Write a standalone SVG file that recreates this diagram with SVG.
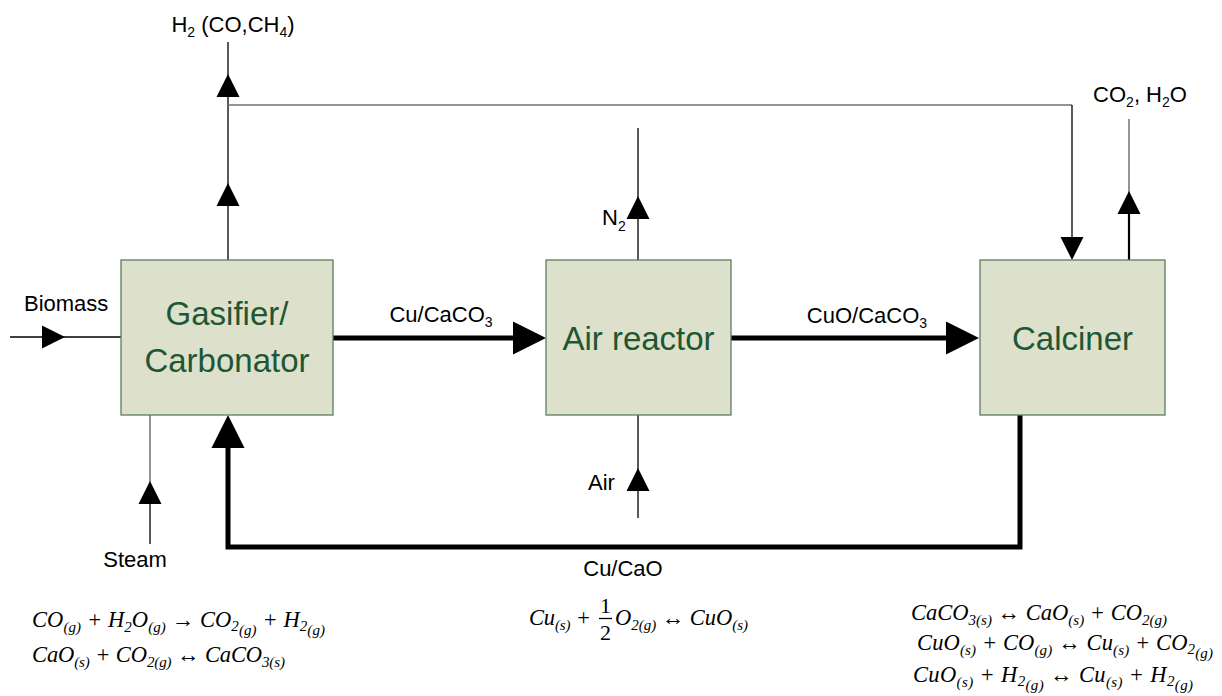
<svg xmlns="http://www.w3.org/2000/svg" xmlns:xlink="http://www.w3.org/1999/xlink" width="1222" height="696" viewBox="0 0 1222 696">
<style>
.box{fill:#dde1cb;stroke:#5d7d5f;stroke-width:1.3}
.bt{font-family:"Liberation Sans",Arial,sans-serif;font-size:33px;fill:#1f5633;text-anchor:middle}
.lbl{font-family:"Liberation Sans",Arial,sans-serif;font-size:22px;fill:#000}
.mid{text-anchor:middle}
.sub{font-size:14px}
.eq{font-family:"Liberation Serif","DejaVu Serif",serif;font-style:italic;font-size:22.5px;fill:#000}
.es{font-size:15px}
.num{font-family:"Liberation Serif",serif;font-size:22px;text-anchor:middle}
.thin{stroke:#000;stroke-width:1.3;fill:none}
.gray{stroke:#707070;stroke-width:1.5;fill:none}
.thick{stroke:#000;stroke-width:5;fill:none;stroke-linecap:round;stroke-linejoin:miter}
.ah{fill:#000}
</style>
<defs>
<path id="ah" d="M0,0 L-11.5,23 L11.5,23 Z"/>
<path id="AH" d="M0,0 L-16.5,33 L16.5,33 Z"/>
</defs>

<g id="connectors">
<path class="thin" d="M228,260 V42"/>
<use href="#ah" class="ah" x="228" y="183"/>
<use href="#ah" class="ah" x="228" y="74"/>
<path class="gray" d="M228,105 H1072"/>
<path class="thin" d="M1072,105 V240"/>
<use href="#ah" class="ah" transform="translate(1072,260) rotate(180)"/>
<path class="thin" d="M10,337 H121"/>
<use href="#ah" class="ah" transform="translate(65,337) rotate(90)"/>
<path class="gray" d="M150,415 V485"/>
<path class="thin" d="M150,485 V544"/>
<use href="#ah" class="ah" x="150" y="481"/>
<path class="thick" d="M333,338 H525"/>
<use href="#AH" class="ah" transform="translate(546,338) rotate(90)"/>
<path class="thin" d="M638,260 V128"/>
<use href="#ah" class="ah" x="638" y="196"/>
<path class="thin" d="M638,518 V415"/>
<use href="#ah" class="ah" x="638" y="468"/>
<path class="thick" d="M731,338 H958"/>
<use href="#AH" class="ah" transform="translate(979,338) rotate(90)"/>
<path class="gray" d="M1129,119 V195"/>
<path stroke="#000" stroke-width="2.2" fill="none" d="M1129,260 V195"/>
<use href="#ah" class="ah" x="1129" y="191"/>
<path class="thick" d="M1020,415 V547 H228 V440" stroke-linecap="butt"/>
<use href="#AH" class="ah" x="228" y="415"/>
</g>

<g id="gasifier">
<rect class="box" x="121" y="260" width="212" height="155"/>
<text class="bt" x="227" y="325">Gasifier/</text>
<text class="bt" x="227" y="372">Carbonator</text>
</g>
<g id="air-reactor">
<rect class="box" x="546" y="260" width="185" height="155"/>
<text class="bt" x="638.5" y="350">Air reactor</text>
</g>
<g id="calciner">
<rect class="box" x="980" y="260" width="185" height="155"/>
<text class="bt" x="1072.5" y="350">Calciner</text>
</g>

<g id="labels">
<text class="lbl mid" x="233" y="32">H<tspan class="sub" dy="5">2</tspan><tspan dy="-5"> (CO,CH</tspan><tspan class="sub" dy="5">4</tspan><tspan dy="-5">)</tspan></text>
<text class="lbl mid" x="1140" y="102">CO<tspan class="sub" dy="5">2</tspan><tspan dy="-5">, H</tspan><tspan class="sub" dy="5">2</tspan><tspan dy="-5">O</tspan></text>
<text class="lbl" x="24" y="311">Biomass</text>
<text class="lbl mid" x="135" y="567">Steam</text>
<text class="lbl" x="602" y="225">N<tspan class="sub" dy="6">2</tspan></text>
<text class="lbl" x="588" y="490">Air</text>
<text class="lbl mid" x="441" y="322">Cu/CaCO<tspan class="sub" dy="5">3</tspan></text>
<text class="lbl mid" x="867" y="323">CuO/CaCO<tspan class="sub" dy="5">3</tspan></text>
<text class="lbl mid" x="623" y="576">Cu/CaO</text>
</g>

<g id="equations">
<text class="eq" x="32" y="627" textLength="293">CO<tspan class="es" dy="5">(g)</tspan><tspan dy="-5"> + H</tspan><tspan class="es" dy="5">2</tspan><tspan dy="-5">O</tspan><tspan class="es" dy="5">(g)</tspan><tspan dy="-5"> → CO</tspan><tspan class="es" dy="4">2</tspan><tspan class="es" dy="4">(g)</tspan><tspan dy="-8"> + H</tspan><tspan class="es" dy="4">2</tspan><tspan class="es" dy="4">(g)</tspan></text>
<text class="eq" x="32" y="662" textLength="253">CaO<tspan class="es" dy="5">(s)</tspan><tspan dy="-5"> + CO</tspan><tspan class="es" dy="5">2(g)</tspan><tspan dy="-5"> ↔ CaCO</tspan><tspan class="es" dy="5">3(s)</tspan></text>

<text class="eq" x="529" y="625" textLength="62">Cu<tspan class="es" dy="5">(s)</tspan><tspan dy="-5"> +</tspan></text>
<text class="num" x="605.5" y="613">1</text>
<path d="M599,618.5 H612" stroke="#000" stroke-width="1.3"/>
<text class="num" x="605.5" y="640">2</text>
<text class="eq" x="615" y="625" textLength="133">O<tspan class="es" dy="5">2(g)</tspan><tspan dy="-5"> ↔ CuO</tspan><tspan class="es" dy="5">(s)</tspan></text>

<text class="eq" x="911" y="620" textLength="256">CaCO<tspan class="es" dy="5">3(s)</tspan><tspan dy="-5">  ↔ CaO</tspan><tspan class="es" dy="5">(s)</tspan><tspan dy="-5"> + CO</tspan><tspan class="es" dy="5">2(g)</tspan></text>
<text class="eq" x="917" y="650" textLength="296">CuO<tspan class="es" dy="5">(s)</tspan><tspan dy="-5"> + CO</tspan><tspan class="es" dy="5">(g)</tspan><tspan dy="-5"> ↔ Cu</tspan><tspan class="es" dy="5">(s)</tspan><tspan dy="-5"> + CO</tspan><tspan class="es" dy="4">2</tspan><tspan class="es" dy="4">(g)</tspan></text>
<text class="eq" x="913" y="682" textLength="280">CuO<tspan class="es" dy="5">(s)</tspan><tspan dy="-5"> + H</tspan><tspan class="es" dy="4">2</tspan><tspan class="es" dy="4">(g)</tspan><tspan dy="-8"> ↔ Cu</tspan><tspan class="es" dy="5">(s)</tspan><tspan dy="-5"> + H</tspan><tspan class="es" dy="4">2</tspan><tspan class="es" dy="4">(g)</tspan></text>
</g>
</svg>
